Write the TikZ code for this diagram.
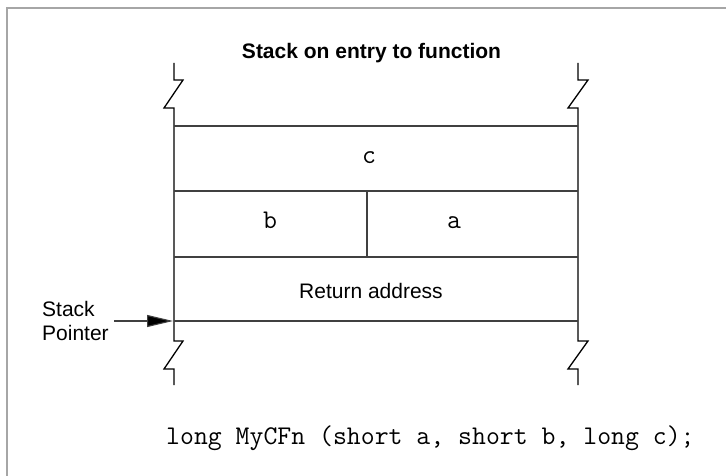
\documentclass[tikz,border=0pt]{standalone}
\usepackage{fontspec}
\setmainfont{Liberation Sans}
\setmonofont{Latin Modern Mono}
\usetikzlibrary{arrows.meta}
\begin{document}
\begin{tikzpicture}[x=1pt,y=-1pt,
  sans/.style={font=\fontsize{21}{24}\selectfont, inner sep=0pt},
  mono/.style={font=\ttfamily\fontsize{27}{30}\selectfont, inner sep=0pt},
  wall/.style={line width=1.3pt, black},
  row/.style={line width=1.1pt, black!75},
  frameline/.style={line width=2pt, black!35}]
\useasboundingbox (0,0) rectangle (726,476);
\fill[white] (0,0) rectangle (726,476);
% frame
\draw[frameline] (7,476) -- (7,8) -- (726,8);
% title
\node[sans, font=\bfseries\fontsize{21}{24}\selectfont, anchor=base] (title) at (371.5,59) {Stack on entry to function};
% walls with break marks
\draw[wall] (174,63) -- (174,80) -- (183,80) -- (164,108) -- (174,108) -- (174,341) -- (183,341) -- (164,369) -- (174,369) -- (174,385);
\draw[wall] (578,63) -- (578,80) -- (588,80) -- (568,108) -- (578,108) -- (578,341) -- (588,341) -- (568,369) -- (578,369) -- (578,385);
% rows
\draw[row] (174,126) -- (578,126);
\draw[row] (174,191) -- (578,191);
\draw[row] (174,257) -- (578,257);
\draw[row] (174,321) -- (578,321);
\draw[row] (367,191) -- (367,257);
% cell labels
\node[mono, anchor=base] (c) at (369,164) {c};
\node[mono, anchor=base] (b) at (270,229) {b};
\node[mono, anchor=base] (a) at (454,229) {a};
\node[sans, anchor=base] (ret) at (371,298) {Return address};
% stack pointer
\node[sans, anchor=base west] (sp1) at (42,316) {Stack};
\node[sans, anchor=base west] (sp2) at (42,340) {Pointer};
\coordinate (spfrom) at (114,321);
\coordinate (spto) at (173,321);
\draw[line width=1.1pt, black!75, -{Triangle[length=26pt,width=12pt,fill=black]}] (spfrom) -- (spto);
% code
\node[mono, anchor=base west] (code) at (166,444) {long MyCFn (short a, short b, long c);};
\end{tikzpicture}
\end{document}
